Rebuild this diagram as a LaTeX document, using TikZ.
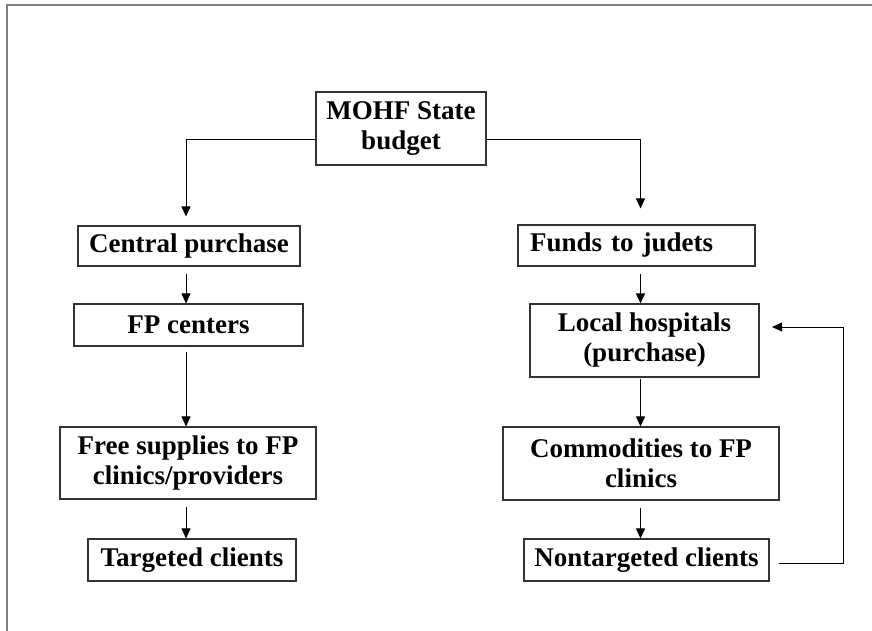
\documentclass[tikz,border=0pt]{standalone}
\usepackage{fontspec}
\setmainfont{Liberation Serif}
\usetikzlibrary{arrows.meta}
\begin{document}
\begin{tikzpicture}[x=1pt,y=-1pt,
  box/.style={draw=black!80,line width=1.1pt,inner sep=0pt,align=center,
    font=\fontsize{27}{30}\selectfont\bfseries},
  arr/.style={draw=black,line width=0.9pt,-{Triangle[length=10pt,width=9pt]}},
  frame/.style={draw=black!50,line width=2pt}]
\useasboundingbox (0,0) rectangle (872,631);
% frame (top and left edges only)
\draw[frame] (872,5.5) -- (6.5,5.5) -- (6.5,631);
% nodes
\node[box,minimum width=170pt,minimum height=73pt] (mohf) at (401,128.5) {MOHF State\\budget};
\node[box,minimum width=222pt,minimum height=40pt] (central) at (189,246) {Central purchase};
\node[box,minimum width=229pt,minimum height=42pt] (fpc) at (188.5,325) {FP centers};
\node[box,minimum width=256pt,minimum height=72pt] (free) at (188,463) {Free supplies to FP\\clinics/providers};
\node[box,minimum width=208pt,minimum height=42pt] (targ) at (192,560) {Targeted clients};
\node[box,minimum width=237pt,minimum height=41pt,text width=213pt,align=left] (funds) at (636.5,245.5) {Funds to judets};
\node[box,minimum width=229pt,minimum height=73pt] (local) at (644.5,340.5) {Local hospitals\\(purchase)};
\node[box,minimum width=276pt,minimum height=73pt] (comm) at (641,463.5) {Commodities to FP\\clinics};
\node[box,minimum width=245pt,minimum height=42pt] (nont) at (646.5,560) {Nontargeted clients};
% reference columns
\coordinate (xl) at (186,0);
\coordinate (xr) at (640.5,0);
\coordinate (ly) at (0,139);
\coordinate (xf) at (843,0);
% top split
\draw[arr] (mohf.west |- ly) -| ([yshift=9pt]central.north -| xl);
\draw[arr] (mohf.east |- ly) -| ([yshift=16pt]funds.north -| xr);
% left column
\draw[arr] ([yshift=-7pt]central.south -| xl) -- (fpc.north -| xl);
\draw[arr] ([yshift=-5pt]fpc.south -| xl) -- (free.north -| xl);
\draw[arr] ([yshift=-7pt]free.south -| xl) -- (targ.north -| xl);
% right column
\draw[arr] ([yshift=-7pt]funds.south -| xr) -- (local.north -| xr);
\draw[arr] ([yshift=-1pt]local.south -| xr) -- (comm.north -| xr);
\draw[arr] ([yshift=-7pt]comm.south -| xr) -- (nont.north -| xr);
% feedback loop
\draw[arr] ([xshift=9pt,yshift=-3pt]nont.east) -| ([yshift=13.5pt]xf |- local.east) -- ([xshift=12.5pt,yshift=13.5pt]local.east);
\end{tikzpicture}
\end{document}
